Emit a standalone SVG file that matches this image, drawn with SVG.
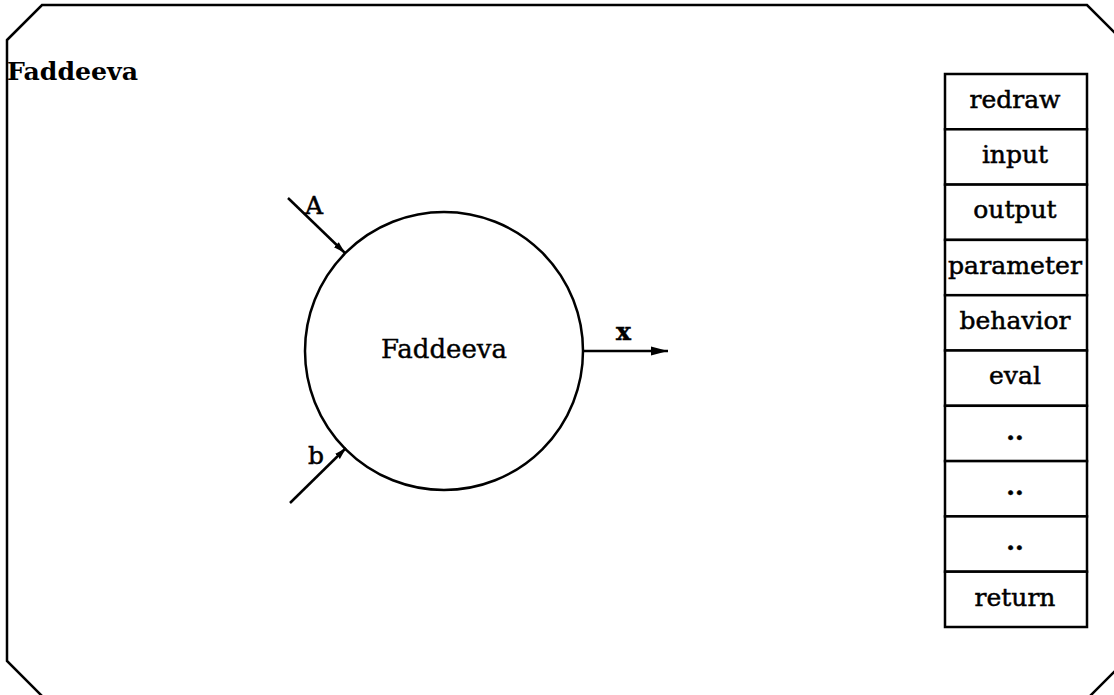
<svg xmlns="http://www.w3.org/2000/svg" width="1114" height="695" viewBox="0 0 1114 695">
<style>
.ln{fill:none;stroke:#000;stroke-width:2.5}
.cell{fill:#fff;stroke:#000;stroke-width:2.5}
.t{font-family:"DejaVu Serif","Liberation Serif",serif;font-size:25px;fill:#000;stroke:#000;stroke-width:0.5;text-anchor:middle}
.lbl{font-family:"DejaVu Serif","Liberation Serif",serif;font-size:25px;fill:#000;stroke:#000;stroke-width:0.5}
</style>
<defs>
<marker id="ah" markerUnits="userSpaceOnUse" markerWidth="18" markerHeight="12" refX="17" refY="6" orient="auto">
<path d="M0,1.5 L17,6 L0,10.5 Z" fill="#000"/>
</marker>
<marker id="ahs" markerUnits="userSpaceOnUse" markerWidth="14" markerHeight="12" refX="12" refY="6" orient="auto">
<path d="M0,2.5 L12,6 L0,9.5 Z" fill="#000"/>
</marker>
</defs>
<rect width="1114" height="695" fill="#fff"/>
<path id="frame" class="ln" stroke-width="3" d="M7,40 L42,5 L1087,5 L1122,40 L1122,664 L1089,697 L43,697 L7,661 Z"/>
<text x="7" y="80" style="font-family:'DejaVu Serif','Liberation Serif',serif;font-size:24px;font-weight:bold" textLength="131" lengthAdjust="spacingAndGlyphs">Faddeeva</text>
<g id="node-faddeeva">
<circle class="ln" cx="444" cy="351" r="139"/>
<text x="444" y="358" style="font-family:'DejaVu Serif','Liberation Serif',serif;font-size:26px;text-anchor:middle;stroke:#000;stroke-width:0.4" textLength="126" lengthAdjust="spacingAndGlyphs">Faddeeva</text>
</g>
<g id="connectors">
<line class="ln" x1="288" y1="198" x2="345" y2="253" marker-end="url(#ahs)"/>
<line class="ln" x1="290" y1="503" x2="346" y2="448" marker-end="url(#ahs)"/>
<line class="ln" x1="583" y1="351" x2="668" y2="351" marker-end="url(#ah)"/>
<text class="lbl" x="305" y="214">A</text>
<text class="lbl" x="308" y="464">b</text>
<text class="lbl" x="616" y="340" style="font-weight:bold">x</text>
</g>
<g id="menu">
<rect class="cell" x="945" y="74" width="142" height="55.3"/>
<rect class="cell" x="945" y="129.3" width="142" height="55.3"/>
<rect class="cell" x="945" y="184.6" width="142" height="55.3"/>
<rect class="cell" x="945" y="239.9" width="142" height="55.3"/>
<rect class="cell" x="945" y="295.2" width="142" height="55.3"/>
<rect class="cell" x="945" y="350.5" width="142" height="55.3"/>
<rect class="cell" x="945" y="405.8" width="142" height="55.3"/>
<rect class="cell" x="945" y="461.1" width="142" height="55.3"/>
<rect class="cell" x="945" y="516.4" width="142" height="55.3"/>
<rect class="cell" x="945" y="571.7" width="142" height="55.3"/>
<text class="t" x="1015" y="108">redraw</text>
<text class="t" x="1015" y="163">input</text>
<text class="t" x="1015" y="218">output</text>
<text class="t" x="1015" y="274" textLength="134" lengthAdjust="spacingAndGlyphs">parameter</text>
<text class="t" x="1015" y="329">behavior</text>
<text class="t" x="1015" y="384">eval</text>
<text class="t" x="1015" y="440" style="font-weight:bold">..</text>
<text class="t" x="1015" y="495" style="font-weight:bold">..</text>
<text class="t" x="1015" y="550" style="font-weight:bold">..</text>
<text class="t" x="1015" y="606">return</text>
</g>
</svg>
